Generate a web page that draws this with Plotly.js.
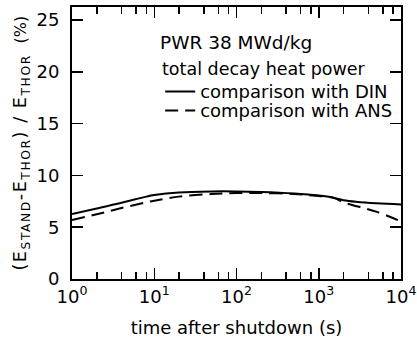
<!DOCTYPE html>
<html>
<head>
<meta charset="utf-8">
<script src="https://cdn.plot.ly/plotly-3.0.1.min.js"></script>
<style>
html,body{margin:0;padding:0;background:#fff;}
#chart{width:417px;height:343px;}
#chart .annotation[data-index="2"] text{letter-spacing:1.6px;}
</style>
</head>
<body>
<div id="chart"></div>
<script>
const timeSec = [1, 2, 4, 8, 10, 20, 50, 100, 200, 500, 1000, 1500, 2000, 5000, 10000];
const dinDiff = [6.27, 6.8, 7.35, 7.95, 8.1, 8.35, 8.45, 8.45, 8.4, 8.25, 8.05, 7.85, 7.6, 7.3, 7.2];
const ansDiff = [5.7, 6.25, 6.85, 7.4, 7.55, 7.95, 8.2, 8.3, 8.3, 8.2, 8.0, 7.85, 7.4, 6.5, 5.55];
const xTickVals = [1, 10, 100, 1000, 10000];
const xTickText = ['10<sup>0</sup>', '10<sup>1</sup>', '10<sup>2</sup>', '10<sup>3</sup>', '10<sup>4</sup>'];
const xMinorVals = [2,4,6,8,20,40,60,80,200,400,600,800,2000,4000,6000,8000];
const yTickVals = [0, 5, 10, 15, 20, 25];
const seriesNames = ['comparison with DIN', 'comparison with ANS'];
const yTitleMain = '(E<sub>STAND</sub>-E<sub>THOR</sub>) / E<sub>THOR</sub>';
const yTitleUnit = '(%)';

const FONT = 'DejaVu Sans, sans-serif';
const px = v => (v - 72) / 329;
const py = v => (279 - v) / 272;
const traces = [
  {x: timeSec, y: dinDiff, name: seriesNames[0], mode: 'lines', line: {color: '#000', width: 2, shape: 'spline'}, legend: 'legend'},
  {x: timeSec, y: ansDiff, name: seriesNames[1], mode: 'lines', line: {color: '#000', width: 2, dash: '13px,7px', shape: 'spline'}, legend: 'legend2'}
];
const layout = {
  width: 417, height: 343,
  margin: {l: 72, r: 16, t: 7, b: 64},
  paper_bgcolor: '#fff', plot_bgcolor: '#fff',
  font: {family: FONT, color: '#000', size: 18},
  showlegend: true,
  legend: {x: 0.268, xanchor: 'left', y: py(91.7), yanchor: 'middle', bgcolor: 'rgba(0,0,0,0)', font: {size: 18, family: FONT}, itemwidth: 30},
  legend2: {x: 0.268, xanchor: 'left', y: py(110.7), yanchor: 'middle', bgcolor: 'rgba(0,0,0,0)', font: {size: 18, family: FONT}, itemwidth: 30},
  xaxis: {
    type: 'log', range: [0, 4],
    tickvals: xTickVals, ticktext: xTickText,
    ticks: 'inside', ticklen: 11, tickwidth: 1.5, tickcolor: '#000',
    minor: {tickvals: xMinorVals, ticks: 'inside', ticklen: 7, tickwidth: 1.5, tickcolor: '#000'},
    showline: true, linecolor: '#000', linewidth: 2, mirror: 'ticks',
    showgrid: false, zeroline: false,
    tickfont: {size: 18, family: FONT},
    title: {text: 'time after shutdown (s)', font: {size: 18, family: FONT}, standoff: 16}
  },
  yaxis: {
    range: [0, 26.25],
    tickvals: yTickVals,
    ticks: 'inside', ticklen: 11, tickwidth: 1.5, tickcolor: '#000',
    ticklabelstandoff: 7,
    showline: true, linecolor: '#000', linewidth: 2, mirror: 'ticks',
    showgrid: false, zeroline: false,
    tickfont: {size: 18, family: FONT}
  },
  annotations: [
    {text: 'PWR 38 MWd/kg', xref: 'paper', yref: 'paper', x: px(158), y: py(43), xanchor: 'left', yanchor: 'middle', showarrow: false, font: {size: 18.5, family: FONT}},
    {text: 'total decay heat power', xref: 'paper', yref: 'paper', x: px(160), y: py(69), xanchor: 'left', yanchor: 'middle', showarrow: false, font: {size: 17.5, family: FONT}},
    {text: yTitleMain, xref: 'paper', yref: 'paper', x: px(21.5), y: py(162.5), xanchor: 'center', yanchor: 'middle', textangle: -90, showarrow: false, font: {size: 17.5, family: FONT}},
    {text: yTitleUnit, xref: 'paper', yref: 'paper', x: px(19.5), y: py(30), xanchor: 'center', yanchor: 'middle', textangle: -90, showarrow: false, font: {size: 16, family: FONT}}
  ]
};
Plotly.newPlot('chart', traces, layout, {staticPlot: true});
</script>
</body>
</html>
